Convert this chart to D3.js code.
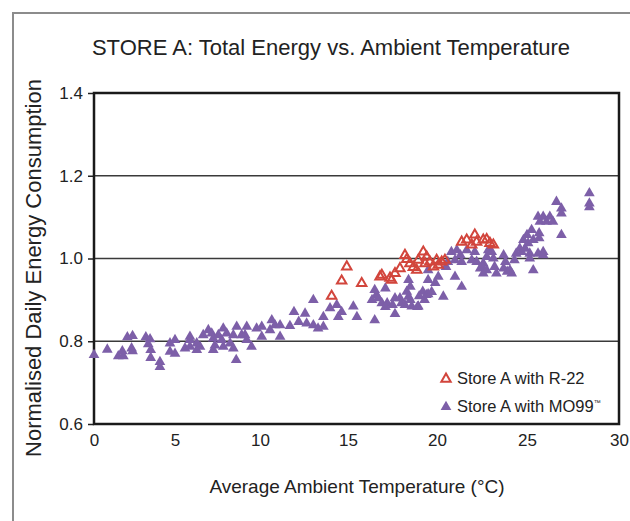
<!DOCTYPE html>
<html><head><meta charset="utf-8">
<script src="https://cdn.jsdelivr.net/npm/d3@7"></script>
<style>html,body{margin:0;padding:0;background:#fff;} svg{display:block;font-family:"Liberation Sans",Arial,sans-serif;}</style>
</head><body><svg id="c" width="630" height="521"></svg>
<script>
// ---- data ----
const xTicks = [0,5,10,15,20,25,30];
const yTicks = [0.6,0.8,1.0,1.2,1.4];
const r22Temp = [14.93,14.64,14.07,15.77,16.8,16.9,17.36,17.45,17.64,17.92,18.2,18.3,18.48,18.67,18.86,18.95,19.23,19.33,19.42,19.6,19.8,19.98,20.07,20.26,20.44,21.37,21.65,21.93,22.1,22.2,22.57,22.76,22.94,23.13];
const r22Energy = [0.98,0.946,0.909,0.94,0.956,0.96,0.953,0.948,0.964,0.976,1.008,0.998,0.988,0.979,0.972,0.996,1.016,0.988,1.004,0.992,0.98,0.996,0.984,0.992,0.996,1.04,1.045,1.033,1.057,1.04,1.045,1.046,1.037,1.033];
const mo99Temp = [0.0,0.82,1.5,1.81,1.75,2.06,2.38,2.32,2.38,3.2,3.46,3.35,3.5,3.5,4.07,4.07,4.69,5.0,4.69,5.0,5.88,5.88,5.59,5.88,6.28,6.47,6.28,6.66,6.96,7.16,7.25,7.35,7.25,7.55,7.75,7.84,7.84,8.04,8.24,8.43,8.63,8.43,8.92,8.6,9.12,9.22,9.22,9.5,9.8,10.1,10.1,10.57,10.67,10.85,11.14,11.14,11.7,11.93,12.2,12.56,12.65,13.03,13.03,13.3,13.6,13.6,13.98,14.36,14.45,14.64,15.3,15.5,
16.5,16.6,16.7,17.1,16.9,17.2,17.64,17.92,18.0,18.4,18.5,18.3,18.4,18.58,18.95,19.2,19.4,19.5,19.5,20.07,20.35,20.5,20.6,20.8,21.0,21.1,21.0,21.37,21.3,21.37,21.65,21.93,22.1,22.2,22.4,22.57,22.76,22.85,23.04,23.13,22.5,22.57,22.76,23.2,23.3,23.7,23.8,23.7,23.9,24.05,24.15,24.3,24.4,24.6,24.7,24.8,24.9,25.0,25.06,25.15,25.25,25.34,25.15,25.34,25.6,25.7,25.88,26.06,26.24,26.41,25.66,25.66,25.6,25.88,25.88,26.6,26.87,26.87,26.87,28.39,28.39,28.39,
16.35,16.5,17.1,17.5,17.64,18.2,18.5,18.9,19.0,19.3,19.5,19.7,19.9];
const mo99Energy = [0.767,0.78,0.764,0.764,0.776,0.81,0.813,0.783,0.776,0.81,0.805,0.793,0.779,0.76,0.75,0.738,0.795,0.803,0.775,0.77,0.811,0.803,0.783,0.787,0.779,0.787,0.795,0.815,0.827,0.819,0.807,0.79,0.779,0.815,0.803,0.831,0.787,0.819,0.795,0.783,0.835,0.815,0.815,0.755,0.815,0.835,0.803,0.787,0.831,0.835,0.811,0.827,0.851,0.839,0.839,0.811,0.837,0.871,0.847,0.867,0.843,0.9,0.839,0.831,0.859,0.835,0.88,0.888,0.859,0.871,0.884,0.859,
0.924,0.912,0.904,0.928,0.892,0.892,0.904,0.904,0.892,0.948,0.932,0.92,0.908,0.884,0.884,0.92,0.912,0.948,0.972,0.956,0.908,0.98,0.992,1.016,0.996,1.02,0.956,0.932,1.008,0.992,1.02,0.996,1.016,0.992,0.976,0.988,1.004,1.02,1.016,1.0,0.98,0.964,0.972,0.98,0.964,1.008,0.992,0.976,0.968,0.972,0.964,0.996,1.012,1.024,1.016,1.045,1.024,1.057,1.037,1.012,1.069,1.045,1.0,0.972,1.101,1.089,1.101,1.089,1.101,1.089,1.061,1.049,1.012,1.016,1.008,1.137,1.121,1.109,1.057,1.158,1.133,1.124,
0.9,0.851,0.883,0.888,0.866,0.888,0.9,0.883,0.909,0.9,0.914,0.919,0.941];

const svg = d3.select("#c");
svg.append("rect").attr("width",630).attr("height",521).attr("fill","#fff");
// outer frame
svg.append("path").attr("d","M13,521 L13,13 L630,13").attr("fill","none").attr("stroke","#8c8c8c").attr("stroke-width",2);

const x = d3.scaleLinear().domain(xTicks).range([94,175,260,348,437,527,619]);
const y = d3.scaleLinear().domain([0.6,1.4]).range([424,93]);

// gridlines
svg.append("g").selectAll("line").data(yTicks.filter(v=>v>0.6 && v<1.4)).join("line")
  .attr("x1",x(0)).attr("x2",x(30)).attr("y1",d=>y(d)).attr("y2",d=>y(d))
  .attr("stroke","#3a3a3a").attr("stroke-width",1.5);

// y axis
const ya = svg.append("g").attr("transform",`translate(${x(0)},0)`)
  .call(d3.axisLeft(y).tickValues(yTicks).tickFormat(d3.format(".1f")).tickSize(6).tickPadding(5));
ya.select(".domain").remove();
ya.selectAll("line").attr("stroke","#222").attr("stroke-width",1.5);
ya.selectAll("text").attr("font-size",17).attr("fill","#222").attr("font-family","Liberation Sans, Arial, sans-serif");

// x axis labels
const xa = svg.append("g").attr("transform",`translate(0,${y(0.6)})`)
  .call(d3.axisBottom(x).tickValues(xTicks).tickFormat(d3.format("d")).tickSize(0).tickPadding(10));
xa.select(".domain").remove();
xa.selectAll("text").attr("font-size",17).attr("fill","#222").attr("font-family","Liberation Sans, Arial, sans-serif");

// frame
svg.append("rect").attr("x",x(0)).attr("y",y(1.4)).attr("width",x(30)-x(0)).attr("height",y(0.6)-y(1.4))
  .attr("fill","none").attr("stroke","#1a1a1a").attr("stroke-width",2.5);

const purple = "#7d5fa8", red = "#d2453c";
const tri = d3.symbol().type(d3.symbolTriangle).size(50);
const triO = d3.symbol().type(d3.symbolTriangle).size(38);

svg.append("g").selectAll("path").data(mo99Temp.map((t,i)=>[t,mo99Energy[i]])).join("path")
  .attr("d",tri).attr("transform",d=>`translate(${x(d[0])},${y(d[1])})`).attr("fill",purple);
svg.append("g").selectAll("path").data(r22Temp.map((t,i)=>[t,r22Energy[i]])).join("path")
  .attr("d",triO).attr("transform",d=>`translate(${x(d[0])},${y(d[1])})`).attr("fill","none").attr("stroke",red).attr("stroke-width",2);

// legend
const lg = svg.append("g").attr("font-size",16.5).attr("fill","#222");
lg.append("path").attr("d",triO).attr("transform","translate(446,379)").attr("fill","none").attr("stroke",red).attr("stroke-width",2);
lg.append("text").attr("x",457).attr("y",384).text("Store A with R-22");
lg.append("path").attr("d",tri).attr("transform","translate(446,407)").attr("fill",purple);
const t2 = lg.append("text").attr("x",457).attr("y",412).text("Store A with MO99");
t2.append("tspan").attr("font-size",7).attr("dy",-7).text("™");

// titles
svg.append("text").attr("x",331).attr("y",55).attr("text-anchor","middle").attr("font-size",22).attr("fill","#222")
  .text("STORE A: Total Energy vs. Ambient Temperature");
svg.append("text").attr("x",357).attr("y",493).attr("text-anchor","middle").attr("font-size",19).attr("fill","#222")
  .text("Average Ambient Temperature (°C)");
svg.append("text").attr("transform","translate(41,268) rotate(-90)").attr("text-anchor","middle").attr("font-size",22).attr("fill","#222")
  .text("Normalised Daily Energy Consumption");
</script></body></html>
